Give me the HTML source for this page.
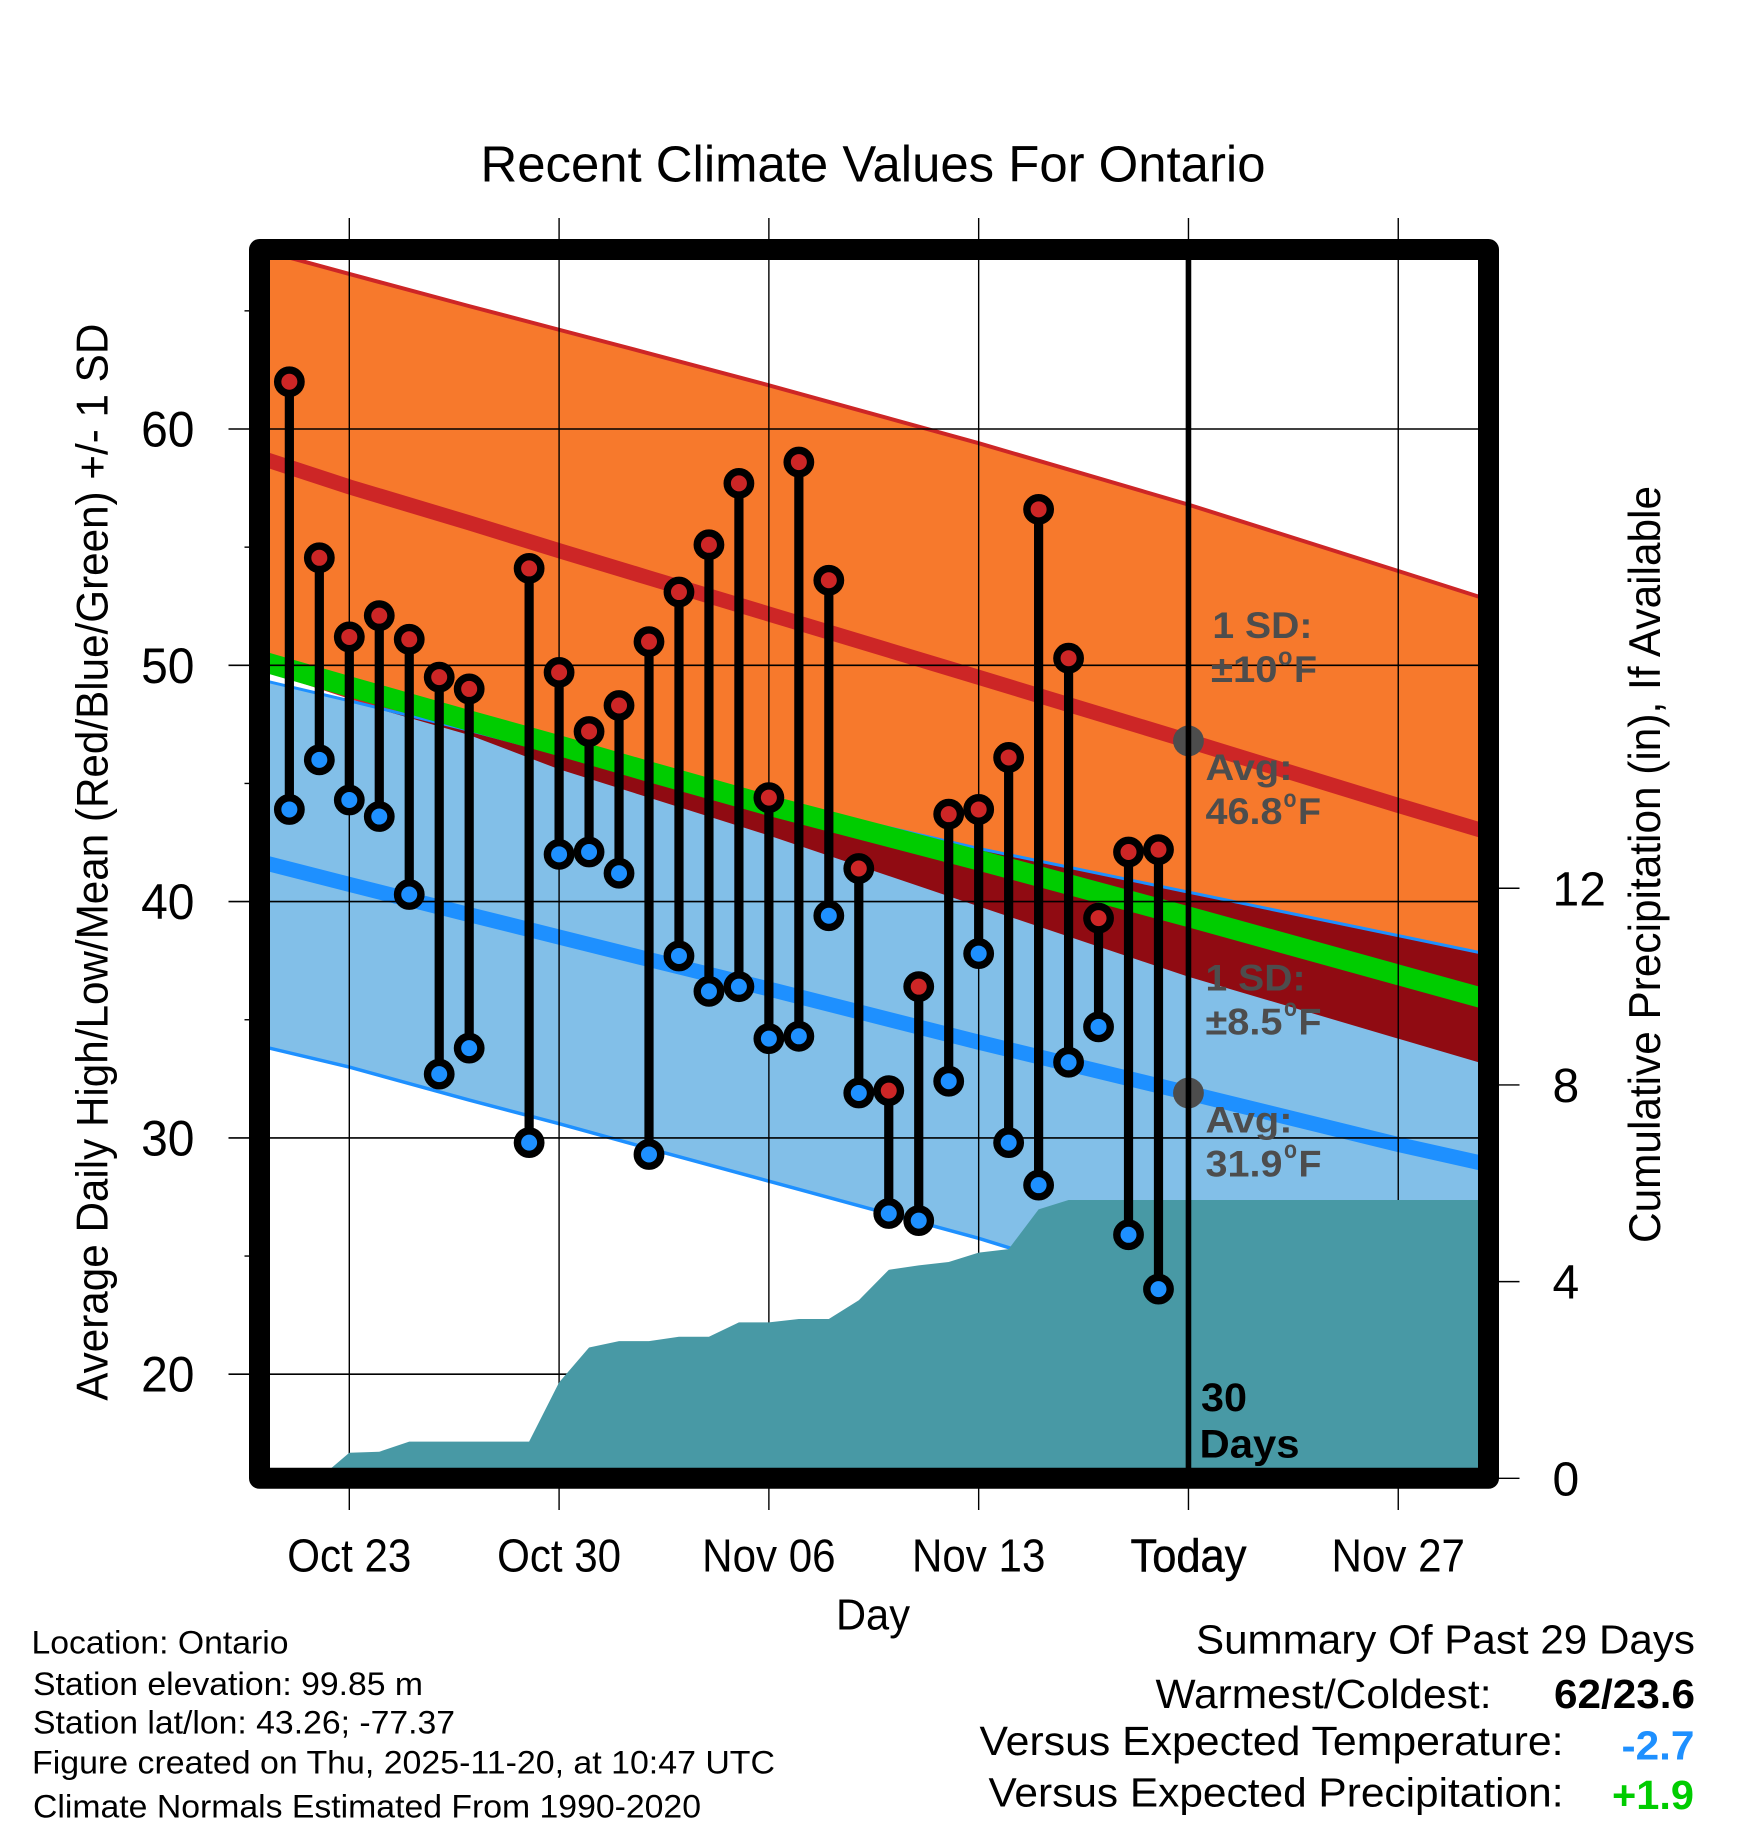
<!DOCTYPE html>
<html lang="en">
<head>
<meta charset="utf-8">
<title>Recent Climate Values For Ontario</title>
<style>
html,body{margin:0;padding:0;background:#fff;}
svg{display:block;}
text{font-family:"Liberation Sans",Arial,sans-serif;fill:#000;}
.b{font-weight:bold;}
.g{font-weight:bold;fill:#4d4d4d;}
</style>
</head>
<body>
<svg id="chart" xmlns="http://www.w3.org/2000/svg" width="1748" height="1828" viewBox="0 0 1748 1828">
  <defs><clipPath id="plot-clip"><rect x="270" y="260" width="1208.4" height="1208"/></clipPath></defs>
  <rect x="0" y="0" width="1748" height="1828" fill="#fff"/>
  <g id="bands" clip-path="url(#plot-clip)"></g>
  <g id="grid"></g>
  <g id="precip" clip-path="url(#plot-clip)"></g>
  <g id="today-dots"></g>
  <g id="obs"></g>
  <rect x="259.5" y="249.5" width="1229" height="1228.8" fill="none" stroke="#000" stroke-width="21" stroke-linejoin="round"/>
  <g id="today-line"></g>
  <g id="labels"></g>

  <text x="480.5" y="181.7" font-size="51" textLength="785" lengthAdjust="spacingAndGlyphs">Recent Climate Values For Ontario</text>
  <text transform="translate(107.5 1400.7) rotate(-90)" font-size="44.5" textLength="1077" lengthAdjust="spacingAndGlyphs">Average Daily High/Low/Mean (Red/Blue/Green) +/- 1 SD</text>
  <text transform="translate(1660 1243) rotate(-90)" font-size="44.5" textLength="757" lengthAdjust="spacingAndGlyphs">Cumulative Precipitation (in), If Available</text>
  <text x="836" y="1629.5" font-size="44" textLength="74" lengthAdjust="spacingAndGlyphs">Day</text>

  <g>
    <text class="g" x="1212.4" y="638" font-size="37" textLength="100" lengthAdjust="spacingAndGlyphs">1 SD:</text>
    <text class="g" x="1211" y="682" font-size="37" textLength="66.5" lengthAdjust="spacingAndGlyphs">±10</text>
    <text class="g" x="1278" y="665" font-size="25" textLength="14.5" lengthAdjust="spacingAndGlyphs">o</text>
    <text class="g" x="1294" y="682" font-size="37" textLength="23" lengthAdjust="spacingAndGlyphs">F</text>
    <text class="g" x="1205.5" y="780" font-size="37" textLength="87" lengthAdjust="spacingAndGlyphs">Avg:</text>
    <text class="g" x="1205.5" y="824" font-size="37" textLength="77" lengthAdjust="spacingAndGlyphs">46.8</text>
    <text class="g" x="1283.5" y="807" font-size="25" textLength="13" lengthAdjust="spacingAndGlyphs">o</text>
    <text class="g" x="1298" y="824" font-size="37" textLength="23" lengthAdjust="spacingAndGlyphs">F</text>
  </g>
  <g>
    <text class="g" x="1205.5" y="990.7" font-size="37" textLength="100" lengthAdjust="spacingAndGlyphs">1 SD:</text>
    <text class="g" x="1205.5" y="1034.3" font-size="37" textLength="77" lengthAdjust="spacingAndGlyphs">±8.5</text>
    <text class="g" x="1284" y="1016" font-size="25" textLength="13" lengthAdjust="spacingAndGlyphs">o</text>
    <text class="g" x="1298.5" y="1034.3" font-size="37" textLength="23" lengthAdjust="spacingAndGlyphs">F</text>
    <text class="g" x="1205.5" y="1132.3" font-size="37" textLength="87" lengthAdjust="spacingAndGlyphs">Avg:</text>
    <text class="g" x="1205.5" y="1176.7" font-size="37" textLength="77" lengthAdjust="spacingAndGlyphs">31.9</text>
    <text class="g" x="1284" y="1158" font-size="25" textLength="13" lengthAdjust="spacingAndGlyphs">o</text>
    <text class="g" x="1298.5" y="1176.7" font-size="37" textLength="23" lengthAdjust="spacingAndGlyphs">F</text>
  </g>
  <text class="b" x="1201" y="1411" font-size="40" textLength="46" lengthAdjust="spacingAndGlyphs">30</text>
  <text class="b" x="1199.5" y="1457.7" font-size="40" textLength="100" lengthAdjust="spacingAndGlyphs">Days</text>

  <g>
    <text x="31.5" y="1653.3" font-size="32.5" textLength="257" lengthAdjust="spacingAndGlyphs">Location: Ontario</text>
    <text x="33" y="1695" font-size="32.5" textLength="390" lengthAdjust="spacingAndGlyphs">Station elevation: 99.85 m</text>
    <text x="33" y="1733.3" font-size="32.5" textLength="422" lengthAdjust="spacingAndGlyphs">Station lat/lon: 43.26; -77.37</text>
    <text x="32" y="1773.3" font-size="32.5" textLength="743" lengthAdjust="spacingAndGlyphs">Figure created on Thu, 2025-11-20, at 10:47 UTC</text>
    <text x="33" y="1817.3" font-size="32.5" textLength="668" lengthAdjust="spacingAndGlyphs">Climate Normals Estimated From 1990-2020</text>
  </g>
  <g>
    <text x="1196" y="1653.3" font-size="41" textLength="499" lengthAdjust="spacingAndGlyphs">Summary Of Past 29 Days</text>
    <text x="1155.5" y="1708" font-size="41" textLength="336" lengthAdjust="spacingAndGlyphs">Warmest/Coldest:</text>
    <text class="b" x="1554" y="1708" font-size="41" textLength="141" lengthAdjust="spacingAndGlyphs">62/23.6</text>
    <text x="979.5" y="1755" font-size="41" textLength="584" lengthAdjust="spacingAndGlyphs">Versus Expected Temperature:</text>
    <text class="b" x="1621.5" y="1759.3" font-size="41" textLength="73" lengthAdjust="spacingAndGlyphs" style="fill:#1e90ff">-2.7</text>
    <text x="988.5" y="1806.7" font-size="41" textLength="575" lengthAdjust="spacingAndGlyphs">Versus Expected Precipitation:</text>
    <text class="b" x="1612" y="1809" font-size="41" textLength="82" lengthAdjust="spacingAndGlyphs" style="fill:#00cc00">+1.9</text>
  </g>
</svg>

<script>
// ---- Chart data -------------------------------------------------------
const obsDates = ["Oct 21","Oct 22","Oct 23","Oct 24","Oct 25","Oct 26","Oct 27","Oct 28","Oct 29","Oct 30","Oct 31","Nov 01","Nov 02","Nov 03","Nov 04","Nov 05","Nov 06","Nov 07","Nov 08","Nov 09","Nov 10","Nov 11","Nov 12","Nov 13","Nov 14","Nov 15","Nov 16","Nov 17","Nov 18","Nov 19"];
const obsHighs = [62,54.55,51.2,52.1,51.1,49.5,49.0,null,54.1,49.7,47.2,48.3,51.0,53.1,55.1,57.7,44.4,58.6,53.6,41.4,32.0,36.4,43.7,43.9,46.1,56.6,50.3,39.3,42.1,42.2];
const obsLows  = [43.9,46.0,44.3,43.6,40.3,32.7,33.8,null,29.8,42.0,42.1,41.2,29.3,37.7,36.2,36.4,34.2,34.3,39.4,31.9,26.8,26.5,32.4,37.8,29.8,28.0,33.2,34.7,25.9,23.6];

const normalDates = ["Oct 20","Oct 23","Oct 27","Oct 30","Nov 02","Nov 06","Nov 13","Nov 20","Nov 27","Nov 30"];
const highMean  = [58.8,57.55,56.03,54.85,53.7,52.17,49.49,46.8,44.07,42.93];
const highUpper = [67.6,66.56,65.2,64.2,63.2,61.85,59.4,56.8,53.99,52.78];
const highLower = [49.9,48.65,47.05,45.6,44.4,42.8,39.8,36.82,34.2,33.08];
const meanTemp  = [50.2,49.1,47.66,46.6,45.5,44.07,41.75,39.36,36.9,35.85];
const lowMean   = [41.7,40.73,39.45,38.5,37.55,36.3,34.05,31.9,29.72,28.87];
const lowUpper  = [49.4,48.5,47.25,46.25,45.3,44.3,42.25,40.4,38.56,37.77];
const lowLower  = [33.9,33.0,31.6,30.6,29.55,28.17,25.75,23.0,21.0,20.2];

const precipDates = ["Oct 22","Oct 23","Oct 24","Oct 25","Oct 26","Oct 27","Oct 28","Oct 29","Oct 30","Oct 31","Nov 01","Nov 02","Nov 03","Nov 04","Nov 05","Nov 06","Nov 07","Nov 08","Nov 09","Nov 10","Nov 11","Nov 12","Nov 13","Nov 14","Nov 15","Nov 16","Nov 30"];
const precipTotals = [0,0.52,0.54,0.745,0.745,0.745,0.745,0.745,1.95,2.66,2.79,2.79,2.88,2.88,3.17,3.17,3.24,3.24,3.62,4.24,4.33,4.40,4.59,4.66,5.47,5.66,5.66];

const xTickDates  = ["Oct 23","Oct 30","Nov 06","Nov 13","Nov 20","Nov 27"];
const xTickLabels = ["Oct 23","Oct 30","Nov 06","Nov 13","Today","Nov 27"];
const yMajorTicks = [20,30,40,50,60];
const yMinorTicks = [25,35,45,55,65];
const precipTicks = [0,4,8,12];
const todayDate = "Nov 20";
const todayHighNormal = 46.8;
const todayLowNormal = 31.9;

// ---- Axis functions ---------------------------------------------------
function dayNumber(s){
  const parts = s.split(" ");
  const d = parseInt(parts[1], 10);
  return parts[0] === "Oct" ? d - 23 : d + 8;
}
function xScale(s){ return 349.3 + 29.97 * dayNumber(s); }
function yScale(t){ return 429 + (60 - t) * 23.63; }
function pScale(p){ return 1478.3 - 49.17 * p; }

const NS = "http://www.w3.org/2000/svg";
function make(parentId, tag, attrs){
  const el = document.createElementNS(NS, tag);
  for (const k in attrs) el.setAttribute(k, attrs[k]);
  document.getElementById(parentId).appendChild(el);
  return el;
}
function seriesPoints(dates, values, sy){
  return dates.map(function(d, i){ return xScale(d).toFixed(2) + "," + sy(values[i]).toFixed(2); });
}
function bandPoints(upper, lower){
  const a = seriesPoints(normalDates, upper, yScale);
  const b = seriesPoints(normalDates, lower, yScale).reverse();
  return a.concat(b).join(" ");
}
function pathOf(values){ return seriesPoints(normalDates, values, yScale).join(" "); }

// ---- Bands ------------------------------------------------------------
const orangeBand = make("bands", "polygon", {points: bandPoints(highUpper, highLower), fill: "#f7792c"});


const highLowerLine = make("bands", "polyline", {points: pathOf(highLower), fill: "none", stroke: "#cd2626", "stroke-width": 3});


const highUpperLine = make("bands", "polyline", {points: pathOf(highUpper), fill: "none", stroke: "#cd2626", "stroke-width": 4});


const blueBand = make("bands", "polygon", {points: bandPoints(lowUpper, lowLower), fill: "#82bfe8"});


const overlapLower = highLower.map(function(v, i){ return Math.min(v, lowUpper[i]); });
const overlapBand = make("bands", "polygon", {points: bandPoints(lowUpper, overlapLower), fill: "#900b12"});


const lowUpperLine = make("bands", "polyline", {points: pathOf(lowUpper), fill: "none", stroke: "#1e90ff", "stroke-width": 3});


const lowLowerLine = make("bands", "polyline", {points: pathOf(lowLower), fill: "none", stroke: "#1e90ff", "stroke-width": 3.5});



// ---- Mean lines (below the grid in paint order) -----------------------
const highMeanLine = make("bands", "polyline", {points: pathOf(highMean), fill: "none", stroke: "#cd2626", "stroke-width": 15});


const lowMeanLine = make("bands", "polyline", {points: pathOf(lowMean), fill: "none", stroke: "#1e90ff", "stroke-width": 15});


const meanLine = make("bands", "polyline", {points: pathOf(meanTemp), fill: "none", stroke: "#00cc00", "stroke-width": 20.5});



// ---- Grid and ticks ---------------------------------------------------
xTickDates.forEach(function(d){
  const line = make("grid", "line", {x1: xScale(d), x2: xScale(d), y1: 218, y2: 1510, stroke: "#000", "stroke-width": 1.4});
  
  
});
yMajorTicks.forEach(function(t){
  const line = make("grid", "line", {x1: 228.5, x2: 1478.4, y1: yScale(t), y2: yScale(t), stroke: "#000", "stroke-width": 1.6});
  
  
});
yMinorTicks.forEach(function(t){
  const line = make("grid", "line", {x1: 244.5, x2: 250, y1: yScale(t), y2: yScale(t), stroke: "#000", "stroke-width": 1.4});
  
  
});
precipTicks.forEach(function(p){
  const line = make("grid", "line", {x1: 1498, x2: 1519.5, y1: pScale(p), y2: pScale(p), stroke: "#000", "stroke-width": 1.4});
  
  
});

// ---- Precipitation ----------------------------------------------------
const precipPts = seriesPoints(precipDates, precipTotals, pScale);
precipPts.unshift(xScale(precipDates[0]).toFixed(2) + "," + pScale(0));
precipPts.push(xScale(precipDates[precipDates.length - 1]).toFixed(2) + "," + pScale(0));
const precipArea = make("precip", "polygon", {points: precipPts.join(" "), fill: "#4899a5"});



// ---- Today markers ----------------------------------------------------
[todayHighNormal, todayLowNormal].forEach(function(t){
  const dot = make("today-dots", "circle", {cx: xScale(todayDate), cy: yScale(t), r: 15.4, fill: "#4d4d4d"});
  
  
});

// ---- Observations -----------------------------------------------------
obsDates.forEach(function(d, i){
  if (obsHighs[i] === null || obsLows[i] === null) return;
  const x = xScale(d);
  const stem = make("obs", "line", {x1: x, x2: x, y1: yScale(obsHighs[i]), y2: yScale(obsLows[i]), stroke: "#000", "stroke-width": 9.2});
  
  
});
obsDates.forEach(function(d, i){
  if (obsHighs[i] === null || obsLows[i] === null) return;
  const x = xScale(d);
  const hi = make("obs", "circle", {cx: x, cy: yScale(obsHighs[i]), r: 11.7, fill: "#cd2626", stroke: "#000", "stroke-width": 7.4});
  
  
  const lo = make("obs", "circle", {cx: x, cy: yScale(obsLows[i]), r: 11.7, fill: "#1e90ff", stroke: "#000", "stroke-width": 7.4});
  
  
});

// ---- Today line -------------------------------------------------------
const todayLine = make("today-line", "line", {x1: xScale(todayDate), x2: xScale(todayDate), y1: 255, y2: 1470, stroke: "#000", "stroke-width": 5.6});



// ---- Tick labels ------------------------------------------------------
xTickLabels.forEach(function(lab, i){
  const t = make("labels", "text", {x: xScale(xTickDates[i]), y: 1571.5, "font-size": 46, "text-anchor": "middle"});
  t.textContent = lab;
  
  
  const squeeze = lab === "Today" ? 0.945 : 0.915;
  t.setAttribute("textLength", (t.getComputedTextLength() * squeeze).toFixed(1));
  t.setAttribute("lengthAdjust", "spacingAndGlyphs");
  if (lab === "Today") { t.style.stroke = "#000"; t.style.strokeWidth = "0.5px"; }
});
yMajorTicks.forEach(function(v){
  const t = make("labels", "text", {x: 194.5, y: yScale(v) + 17.5, "font-size": 50, "text-anchor": "end"});
  t.textContent = String(v);
  
  
  t.setAttribute("textLength", (t.getComputedTextLength() * 0.96).toFixed(1));
  t.setAttribute("lengthAdjust", "spacingAndGlyphs");
});
precipTicks.forEach(function(v){
  const t = make("labels", "text", {x: 1552.5, y: pScale(v) + 17, "font-size": 48});
  t.textContent = String(v);
  
  
});
</script>
</body>
</html>
